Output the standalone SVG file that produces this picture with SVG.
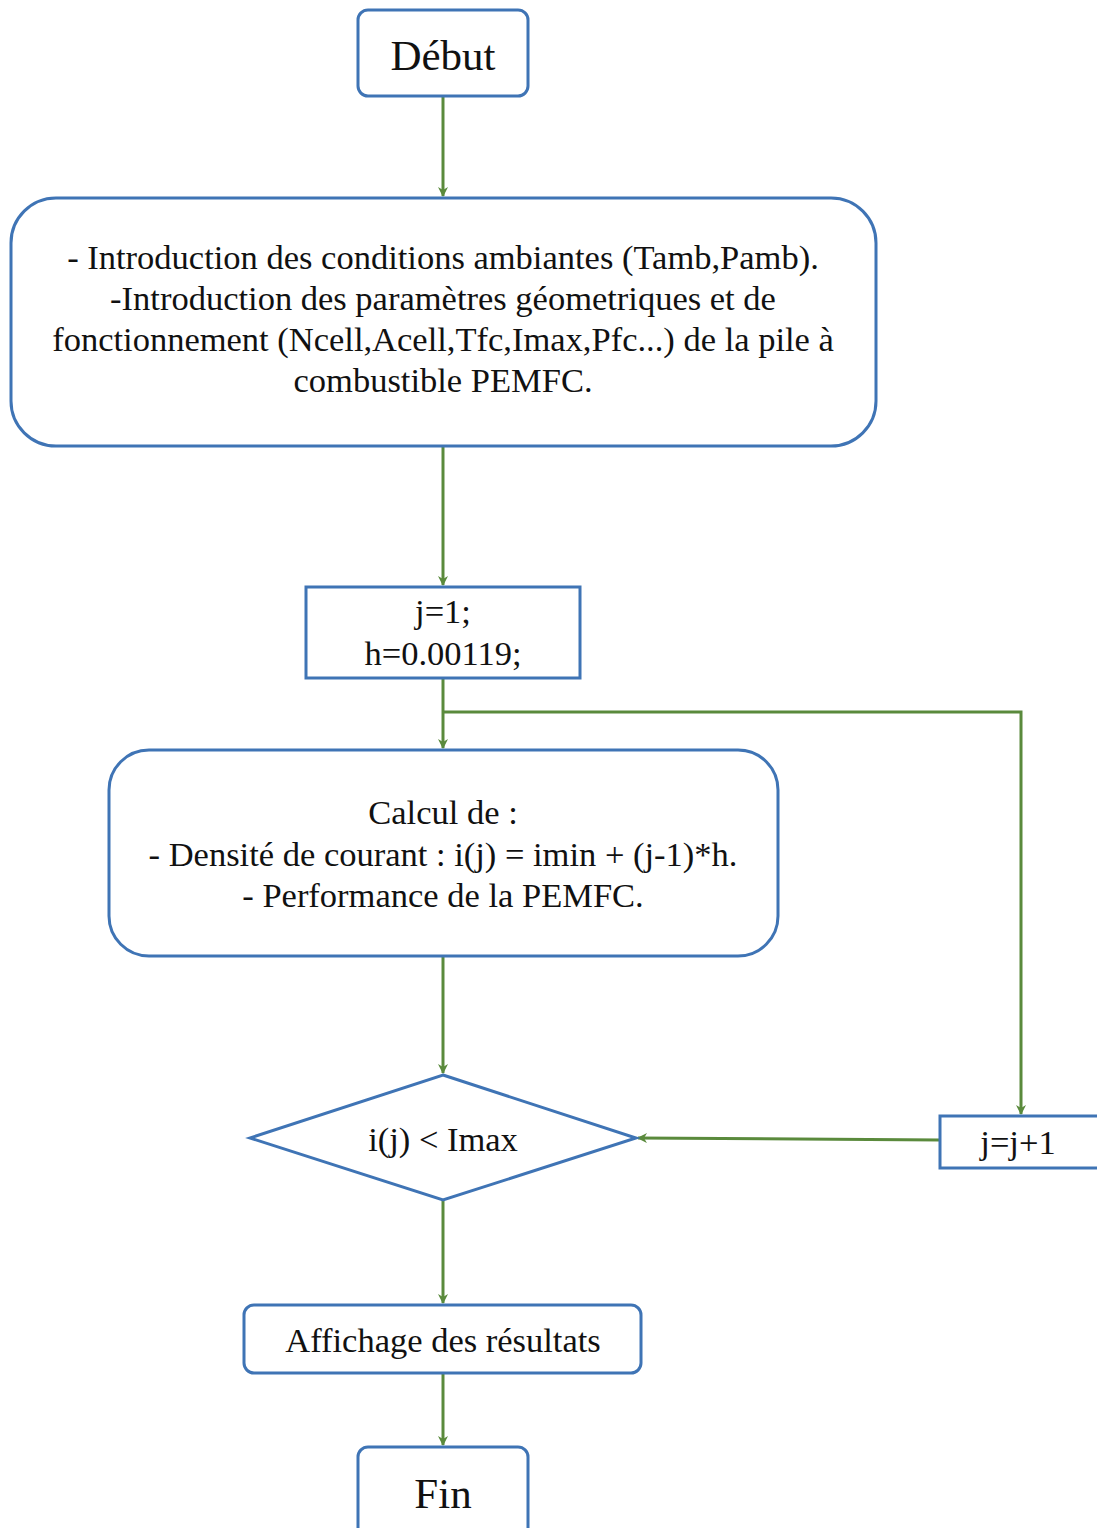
<svg xmlns="http://www.w3.org/2000/svg" width="1097" height="1528" viewBox="0 0 1097 1528">
<defs>
<style>
.n{fill:#fff;stroke:#3f74b5;stroke-width:3}
.t{font-family:"Liberation Serif","Times New Roman",serif;font-size:34.5px;fill:#111;text-anchor:middle}
.big{font-size:43px}
.c{fill:none;stroke:#5a8a3c;stroke-width:3}
</style>
<marker id="ah" viewBox="0 0 10 10" refX="9" refY="5" markerWidth="11" markerHeight="10" orient="auto" markerUnits="userSpaceOnUse">
<path d="M0,0 L10,5 L0,10 L3,5 z" fill="#5a8a3c"/>
</marker>
</defs>
<rect width="1097" height="1528" fill="#fff"/>
<g id="connectors">
<path class="c" d="M443,96 V196" marker-end="url(#ah)"/>
<path class="c" d="M443,446 V585" marker-end="url(#ah)"/>
<path class="c" d="M443,678 V748" marker-end="url(#ah)"/>
<path class="c" d="M443,712 H1021 V1114" marker-end="url(#ah)"/>
<path class="c" d="M443,956 V1073" marker-end="url(#ah)"/>
<path class="c" d="M940,1140 L638,1138" marker-end="url(#ah)"/>
<path class="c" d="M443,1200 V1303" marker-end="url(#ah)"/>
<path class="c" d="M443,1373 V1445" marker-end="url(#ah)"/>
</g>
<g id="debut">
<rect class="n" x="358" y="10" width="170" height="86" rx="10"/>
<text class="t big" x="443" y="70">Début</text>
</g>
<g id="introduction">
<rect class="n" x="11" y="198" width="865" height="248" rx="45"/>
<text class="t" x="443" y="269">- Introduction des conditions ambiantes (Tamb,Pamb).</text>
<text class="t" x="443" y="310">-Introduction des paramètres géometriques et de</text>
<text class="t" x="443" y="351">fonctionnement (Ncell,Acell,Tfc,Imax,Pfc...) de la pile à</text>
<text class="t" x="443" y="392">combustible PEMFC.</text>
</g>
<g id="init">
<rect class="n" x="306" y="587" width="274" height="91"/>
<text class="t" x="443" y="623">j=1;</text>
<text class="t" x="443" y="665">h=0.00119;</text>
</g>
<g id="calcul">
<rect class="n" x="109" y="750" width="669" height="206" rx="40"/>
<text class="t" x="443" y="824">Calcul de :</text>
<text class="t" x="443" y="866">- Densité de courant : i(j) = imin + (j-1)*h.</text>
<text class="t" x="443" y="907">- Performance de la PEMFC.</text>
</g>
<g id="test">
<polygon class="n" points="443,1075 636,1138 443,1200 250,1138"/>
<text class="t" x="443" y="1151">i(j) &lt; Imax</text>
</g>
<g id="incr">
<rect class="n" x="940" y="1116" width="160" height="52"/>
<text class="t" x="1018" y="1154">j=j+1</text>
</g>
<g id="affichage">
<rect class="n" x="244" y="1305" width="397" height="68" rx="10"/>
<text class="t" x="443" y="1352">Affichage des résultats</text>
</g>
<g id="fin">
<rect class="n" x="358" y="1447" width="170" height="95" rx="10"/>
<text class="t big" x="443" y="1508">Fin</text>
</g>
</svg>
